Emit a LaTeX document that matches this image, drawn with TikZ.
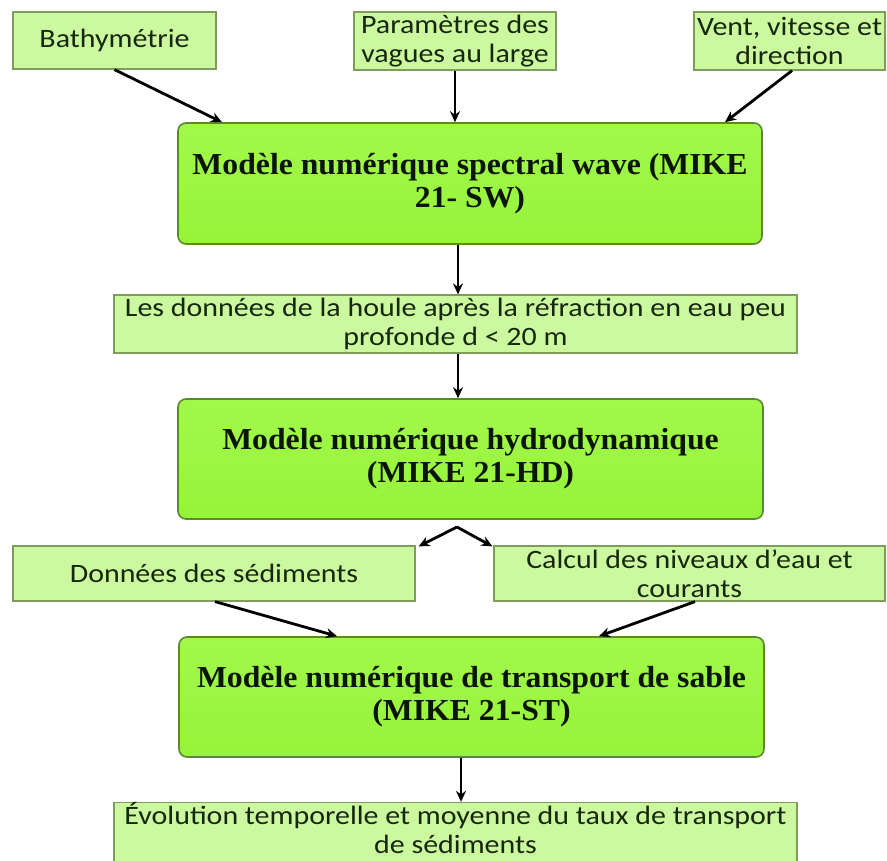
\documentclass[tikz,border=0pt]{standalone}
\usepackage{fontspec}
\usetikzlibrary{arrows.meta}
\newfontfamily\smallboxfont[FakeStretch=1.13]{Carlito}
\newfontfamily\bigboxfont[FakeStretch=1.04]{Liberation Serif}
\definecolor{bigfill}{HTML}{96F43A}
\definecolor{bigfilltop}{HTML}{A2F84A}
\definecolor{bigdraw}{HTML}{5A8A2C}
\definecolor{smallfill}{HTML}{CCF8A0}
\definecolor{smalldraw}{HTML}{7F9C5C}
\definecolor{smalltext}{HTML}{16280C}
\definecolor{bigtext}{HTML}{0A1505}
\tikzset{
  inbox/.style={draw=smalldraw, line width=1.2pt, fill=smallfill, rectangle,
    inner sep=0pt, align=center, text=smalltext,
    font=\smallboxfont\fontsize{26.5}{29}\selectfont},
  modelbox/.style={draw=bigdraw, line width=1.6pt, top color=bigfilltop, bottom color=bigfill,
    rounded corners=8pt, rectangle, inner sep=0pt, align=center, text=bigtext,
    font=\bigboxfont\bfseries\fontsize{30.5}{33}\selectfont},
  flow/.style={-{Stealth[length=11pt,width=10pt]}, line width=2.8pt, black},
}
\begin{document}
\begin{tikzpicture}[x=1pt,y=-1pt]
\useasboundingbox (0,0) rectangle (887,861);
\fill[white] (0,0) rectangle (887,861);
\begin{scope}
\clip (0,0) rectangle (887,861);
\node[inbox, minimum width=203pt, minimum height=57pt] (bath) at (114.5,40.5) {Bathymétrie};
\node[inbox, minimum width=202pt, minimum height=58pt] (param) at (455,41) {Paramètres des\\vagues au large};
\node[inbox, minimum width=191pt, minimum height=58pt] (vent) at (789.5,41) {Vent, vitesse et\\direction};
\node[modelbox, minimum width=584pt, minimum height=121pt] (sw) at (470,183.5) {Modèle numérique spectral wave (MIKE\\21- SW)};
\node[inbox, minimum width=683pt, minimum height=58pt] (houle) at (455.5,324) {Les données de la houle après la réfraction en eau peu\\profonde d < 20 m};
\node[modelbox, minimum width=585pt, minimum height=120pt] (hd) at (470.5,459) {Modèle numérique hydrodynamique\\(MIKE 21-HD)};
\node[inbox, minimum width=402pt, minimum height=55pt] (sed) at (214,573.5) {Données des sédiments};
\node[inbox, minimum width=391pt, minimum height=55pt] (calc) at (689.5,573.5) {Calcul des niveaux d’eau et\\courants};
\node[modelbox, minimum width=585pt, minimum height=120pt] (st) at (471.5,697) {Modèle numérique de transport de sable\\(MIKE 21-ST)};
\node[inbox, minimum width=683pt, minimum height=59pt, text depth=8pt] (evo) at (455.5,832) {Évolution temporelle et moyenne du taux de transport\\de sédiments};
\coordinate (split) at (457,527);
\end{scope}
\draw[flow] (bath.south) -- ([xshift=-248pt]sw.north);
\draw[flow] (param.south) -- ([xshift=-15pt]sw.north);
\draw[flow] ([xshift=2.5pt]vent.south) -- ([xshift=255pt]sw.north);
\draw[flow] ([xshift=-12pt]sw.south) -- ([xshift=2.5pt]houle.north);
\draw[flow] ([xshift=2.5pt]houle.south) -- ([xshift=-12.5pt]hd.north);
\draw[flow] (split) -- ([xshift=3pt,yshift=-1pt]sed.north east);
\draw[flow] (split) -- ([xshift=-1pt,yshift=-1pt]calc.north west);
\draw[flow] ([xshift=1pt]sed.south) -- ([xshift=-134.5pt]st.north);
\draw[flow] ([xshift=5.5pt]calc.south) -- ([xshift=127.5pt]st.north);
\draw[flow] ([xshift=-10.5pt]st.south) -- ([xshift=5.5pt]evo.north);
\end{tikzpicture}
\end{document}
